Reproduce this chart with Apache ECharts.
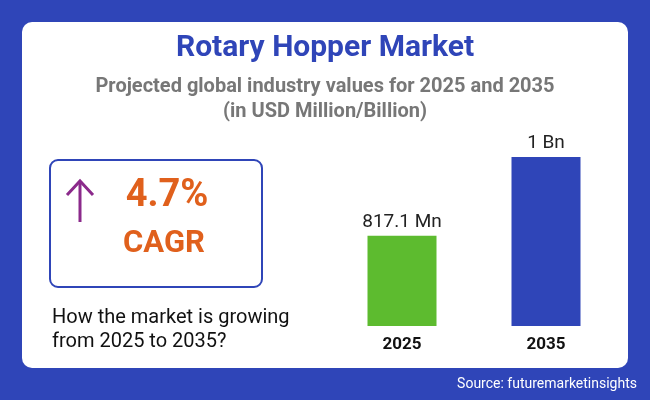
<!DOCTYPE html>
<html>
<head>
<meta charset="utf-8">
<script src="https://cdn.jsdelivr.net/npm/echarts@6/dist/echarts.min.js"></script>
<style>html,body{margin:0;padding:0;}#main{width:650px;height:400px;}</style>
</head>
<body>
<div id="main"></div>
<script>
var years = ['2025', '2035'];
var values = [817.1, 1000];
var valueLabels = ['817.1 Mn', '1 Bn'];
var barColors = ['#5dbb2f', '#2f45b8'];

var myChart = echarts.init(document.getElementById('main'));
var option = {
    backgroundColor: '#2f45b8',
    textStyle: { fontFamily: 'Roboto' },
    graphic: [
        { type: 'rect', z: -1, shape: { x: 22, y: 22, width: 606, height: 346, r: 10 }, style: { fill: '#fff' } },
        { type: 'text', x: 325, y: 48, style: { text: 'Rotary Hopper Market', fill: '#2f45b8', font: 'bold 30px Roboto', align: 'center', verticalAlign: 'middle' } },
        { type: 'text', x: 325, y: 87, style: { text: 'Projected global industry values for 2025 and 2035', fill: '#777', font: 'bold 20px Roboto', align: 'center', verticalAlign: 'middle' } },
        { type: 'text', x: 325, y: 112, style: { text: '(in USD Million/Billion)', fill: '#777', font: 'bold 20px Roboto', align: 'center', verticalAlign: 'middle' } },
        { type: 'rect', shape: { x: 50, y: 160, width: 212, height: 127, r: 8 }, style: { fill: '#fff', stroke: '#2f45b8', lineWidth: 2 } },
        { type: 'line', shape: { x1: 80, y1: 222, x2: 80, y2: 182 }, style: { stroke: '#8b2a8b', lineWidth: 3 } },
        { type: 'polyline', shape: { points: [[67, 195], [80, 181], [93, 195]] }, style: { stroke: '#8b2a8b', lineWidth: 3, fill: null } },
        { type: 'text', x: 167, y: 196, style: { text: '4.7%', fill: '#e0601c', font: 'bold 38px Roboto', align: 'center', verticalAlign: 'middle' } },
        { type: 'text', x: 164, y: 244, style: { text: 'CAGR', fill: '#e0601c', font: 'bold 31px Roboto', align: 'center', verticalAlign: 'middle' } },
        { type: 'text', x: 52, y: 318, style: { text: 'How the market is growing', fill: '#111', font: '20px Roboto', verticalAlign: 'middle' } },
        { type: 'text', x: 52, y: 342, style: { text: 'from 2025 to 2035?', fill: '#111', font: '20px Roboto', verticalAlign: 'middle' } },
        { type: 'text', x: 637, y: 384, style: { text: 'Source: futuremarketinsights', fill: '#fff', font: '14px Roboto', align: 'right', verticalAlign: 'middle' } }
    ],
    grid: { left: 330, right: 32, top: 157, bottom: 74 },
    xAxis: {
        type: 'category', data: years,
        axisLine: { show: false }, axisTick: { show: false },
        axisLabel: { color: '#111', fontWeight: 'bold', fontSize: 17, margin: 10 }
    },
    yAxis: { type: 'value', min: 608, max: 1000, show: false },
    series: [{
        type: 'bar', barWidth: 69,
        data: values.map(function (v, i) { return { value: v, itemStyle: { color: barColors[i] } }; }),
        label: {
            show: true, position: 'top', fontSize: 19, color: '#222', distance: 4,
            formatter: function (p) { return valueLabels[p.dataIndex]; }
        }
    }]
};
myChart.setOption(option);
</script>
</body>
</html>
